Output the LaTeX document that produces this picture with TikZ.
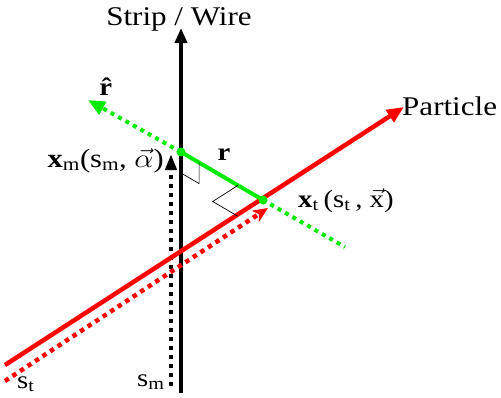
\RequirePackage{fix-cm}
\documentclass[tikz,border=0pt]{standalone}
\usepackage{graphicx}
\usepackage{fontspec}
\setmainfont{Liberation Serif}
\usetikzlibrary{arrows.meta,calc}
\definecolor{myred}{RGB}{255,0,0}
\definecolor{mygreen}{RGB}{0,235,0}
\newcommand{\wideit}[1]{\scalebox{1.15}[1]{#1}}
\begin{document}
\begin{tikzpicture}[x=1pt,y=-1pt,
  big/.style={font=\fontsize{27}{30}\selectfont, inner sep=0pt},
  lab/.style={font=\fontsize{25}{28}\selectfont, inner sep=0pt},
  biglab/.style={font=\fontsize{26.5}{29}\selectfont, inner sep=0pt},
  thickline/.style={line width=4.5pt},
  dotline/.style={line width=4.5pt, dash pattern=on 4.5pt off 4.5pt},
  blackhead/.style={-{Triangle[length=15pt,width=12pt]}},
  smallhead/.style={-{Triangle[length=16pt,width=11pt]}},
  redhead/.style={-{Triangle[length=17pt,width=14pt]}},
  reddothead/.style={-{Stealth[length=15pt,width=13pt,inset=4pt]}},
  greenhead/.style={-{Triangle[length=17pt,width=14pt]}},
  rightmark/.style={line width=0.7pt, black},
  gdot/.style={circle, fill=mygreen, inner sep=0pt, minimum size=9pt}
]
\useasboundingbox (0,0) rectangle (501,397);

% coordinates
\coordinate (wireBot) at (181,393);
\coordinate (wireTop) at (181,28);
\coordinate (dotBot) at (171,386);
\coordinate (dotTop) at (171,154);
\coordinate (redA) at (5,365);
\coordinate (redB) at (404,107);
\coordinate (rdA) at (5,381);
\coordinate (rdB) at (268,208);
\coordinate (gW) at (181,152);
\coordinate (gT) at (263,200);
\coordinate (grA) at (88,100);
\coordinate (grB) at (345,247);

% wire and its dotted coordinate axis
\draw[thickline, black, blackhead] (wireBot) -- (wireTop);
\draw[dotline, black, smallhead] (dotBot) -- (dotTop);

% particle track
\draw[dotline, myred, reddothead] (rdA) -- (rdB);
\draw[thickline, myred, redhead] (redA) -- (redB);

% green direction
\draw[dotline, line width=4pt, dash pattern=on 4pt off 4.5pt, mygreen, greenhead] (gW) -- (grA);
\draw[dotline, line width=4pt, dash pattern=on 4pt off 4.5pt, mygreen] (gT) -- (grB);
\draw[line width=4pt, mygreen] (gW) -- (gT);

% right-angle marks
\coordinate (m1a) at ($(gW)!21pt!(gT)$);
\coordinate (m1b) at ($(gW)!21pt!(wireBot)$);
\coordinate (m1c) at ($(m1a)+(m1b)-(gW)$);
\draw[rightmark] (m1b) -- (m1c) -- (m1a);
\coordinate (m2a) at ($(gT)!29pt!(gW)$);
\coordinate (m2b) at ($(gT)!30pt!(redA)$);
\coordinate (m2c) at ($(m2a)+(m2b)-(gT)$);
\draw[rightmark] (m2a) -- (m2c) -- (m2b);

\node[gdot] (dW) at (gW) {};
\node[gdot] (dT) at (gT) {};

% labels
\node[big, anchor=base] (title) at (179,25) {\wideit{Strip / Wire}};
\node[big, anchor=base west] (part) at (402,115) {\wideit{Particle}};
\node[lab, anchor=base] (rhat) at (108,95) {\wideit{\textbf{\^{r}}}};
\node[lab, anchor=base] (rlab) at (224,160) {\wideit{\textbf{r}}};
\node[biglab, anchor=base east] (xm) at (164,167) {\wideit{\textbf{x}\textsubscript{m}(s\textsubscript{m}, $\vec{\alpha}$)}};
\node[lab, anchor=base west] (xt) at (298,207) {\wideit{\textbf{x}\textsubscript{t}\,(s\textsubscript{t}\,, $\vec{\mathrm{x}}$)}};
\node[lab, anchor=base west] (sm) at (137,386) {\wideit{s\textsubscript{m}}};
\node[lab, anchor=base west] (st) at (17,388) {\wideit{s\textsubscript{t}}};
\end{tikzpicture}
\end{document}
